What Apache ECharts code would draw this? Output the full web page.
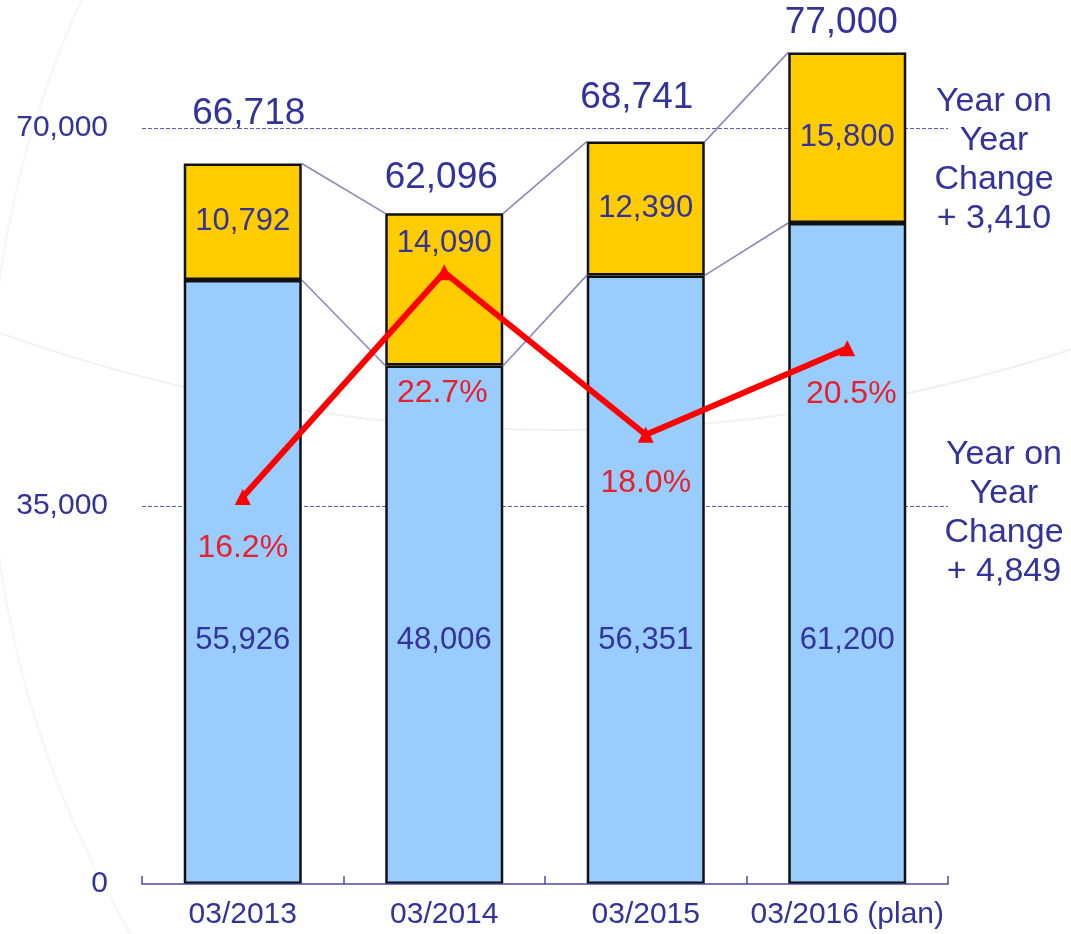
<!DOCTYPE html>
<html>
<head>
<meta charset="utf-8">
<script src="https://cdn.jsdelivr.net/npm/echarts@6/dist/echarts.min.js"></script>
<style>
  html, body { margin:0; padding:0; background:#fff; }
  #main { width:1071px; height:934px; }
</style>
</head>
<body>
<div id="main"></div>
<script>
// data
var categories = ['03/2013', '03/2014', '03/2015', '03/2016 (plan)'];
var baseValues = [55926, 48006, 56351, 61200];
var addValues = [10792, 14090, 12390, 15800];
var ratioValues = [16.2, 22.7, 18.0, 20.5];
var yTicks = [0, 35000, 70000];
var noteTop = ['Year on', 'Year', 'Change', '+ 3,410'];
var noteBottom = ['Year on', 'Year', 'Change', '+ 4,849'];

// label tweaks (pixel offsets only)
var totalOffsets = [[6, -50], [-3, -36], [-9, -44], [-6, -30]];
var addOffsets = [[0, 0], [0, -46], [0, 0], [0, 0]];
var ratioOffsets = [[0, 51], [-2, 121], [0, 48], [4, 46]];

var totals = baseValues.map(function (v, i) { return v + addValues[i]; });
var fmt = function (v) { return v.toLocaleString('en-US'); };
var navy = '#333399';
var font = 'Liberation Sans, Arial, sans-serif';

var myChart = echarts.init(document.getElementById('main'));

var option = {
  backgroundColor: '#ffffff',
  animation: false,
  grid: { left: 142, right: 123, top: 20, bottom: 50 },
  graphic: [
    // faint background swirl
    { type: 'circle', silent: true, z: -10, shape: { cx: 560, cy: -1235, r: 1665 },
      style: { fill: 'none', stroke: '#f1f1f1', lineWidth: 2 } },
    { type: 'circle', silent: true, z: -10, shape: { cx: 1000, cy: 420, r: 1010 },
      style: { fill: 'none', stroke: '#f6f6f6', lineWidth: 2 } },
    { type: 'text', x: 994, y: 82, z: 20,
      style: { text: noteTop.join('\n'), fill: navy, font: '34px ' + font, lineHeight: 39, align: 'center' } },
    { type: 'text', x: 1004, y: 435, z: 20,
      style: { text: noteBottom.join('\n'), fill: navy, font: '34px ' + font, lineHeight: 39, align: 'center' } }
  ],
  xAxis: {
    type: 'category',
    data: categories,
    boundaryGap: true,
    z: 10,
    axisLine: { show: true, lineStyle: { color: '#4b4b9a', width: 1.5 } },
    axisTick: { show: true, inside: true, interval: 0, length: 8, lineStyle: { color: '#4b4b9a', width: 1.5 } },
    axisLabel: { interval: 0, color: navy, fontSize: 30, fontFamily: font, margin: 16 }
  },
  yAxis: [
    {
      type: 'value', min: 0, max: 80000, interval: 35000,
      axisLine: { show: false }, axisTick: { show: false },
      splitLine: { show: false },
      axisLabel: {
        color: navy, fontSize: 30, fontFamily: font, margin: 34,
        formatter: function (v) { return yTicks.indexOf(v) >= 0 ? fmt(v) : ''; }
      }
    },
    { type: 'value', min: 5, max: 30, show: false }
  ],
  series: [
    {
      name: 'connectors',
      type: 'custom',
      z: 1,
      silent: true,
      data: totals.slice(0, -1).map(function (t, i) {
        return [i, t, baseValues[i], totals[i + 1], baseValues[i + 1]];
      }),
      encode: { x: 0, y: 1 },
      renderItem: function (params, api) {
        var i = api.value(0);
        var half = 59;
        var a1 = api.coord([i, api.value(1)]);
        var a2 = api.coord([i, api.value(2)]);
        var b1 = api.coord([i + 1, api.value(3)]);
        var b2 = api.coord([i + 1, api.value(4)]);
        var st = { stroke: '#8a8ab8', lineWidth: 1.6 };
        return {
          type: 'group',
          children: [
            { type: 'line', shape: { x1: a1[0] + half, y1: a1[1], x2: b1[0] - half, y2: b1[1] }, style: st },
            { type: 'line', shape: { x1: a2[0] + half, y1: a2[1], x2: b2[0] - half, y2: b2[1] }, style: st }
          ]
        };
      }
    },
    {
      name: 'base',
      type: 'bar',
      stack: 'total',
      barWidth: 118,
      z: 2,
      data: baseValues,
      itemStyle: { color: '#99ccff', borderColor: '#111', borderWidth: 2.5 },
      label: {
        show: true, position: 'insideBottom', distance: 228,
        color: navy, fontSize: 31, fontFamily: font,
        formatter: function (p) { return fmt(p.value); }
      },
      markLine: {
        silent: true, symbol: 'none', z: 0,
        label: { show: false },
        lineStyle: { color: '#5d5da8', type: [4, 2], width: 1.2 },
        data: yTicks.slice(1).map(function (v) { return { yAxis: v }; })
      }
    },
    {
      name: 'add',
      type: 'bar',
      stack: 'total',
      barWidth: 118,
      z: 2,
      data: addValues.map(function (v, i) {
        return { value: v, label: { offset: addOffsets[i] } };
      }),
      itemStyle: { color: '#ffcc00', borderColor: '#111', borderWidth: 2.5 },
      label: {
        show: true, position: 'inside',
        color: navy, fontSize: 31, fontFamily: font,
        formatter: function (p) { return fmt(p.value); }
      }
    },
    {
      name: 'total',
      type: 'scatter',
      symbolSize: 0,
      silent: true,
      z: 5,
      itemStyle: { opacity: 1 },
      data: totals.map(function (v, i) {
        return { value: v, label: { offset: totalOffsets[i] } };
      }),
      label: {
        show: true, position: 'inside',
        color: navy, fontSize: 37, fontFamily: font,
        formatter: function (p) { return fmt(p.value); }
      }
    },
    {
      name: 'ratio',
      type: 'line',
      yAxisIndex: 1,
      z: 6,
      symbol: 'triangle',
      symbolSize: 16,
      data: ratioValues.map(function (v, i) {
        return { value: v, label: { offset: ratioOffsets[i] } };
      }),
      lineStyle: { color: '#ff0000', width: 6 },
      itemStyle: { color: '#ff0000' },
      label: {
        show: true, position: 'inside',
        color: '#e8202a', fontSize: 32, fontFamily: font,
        formatter: function (p) { return p.value.toFixed(1) + '%'; }
      }
    }
  ]
};

myChart.setOption(option);
</script>
</body>
</html>
